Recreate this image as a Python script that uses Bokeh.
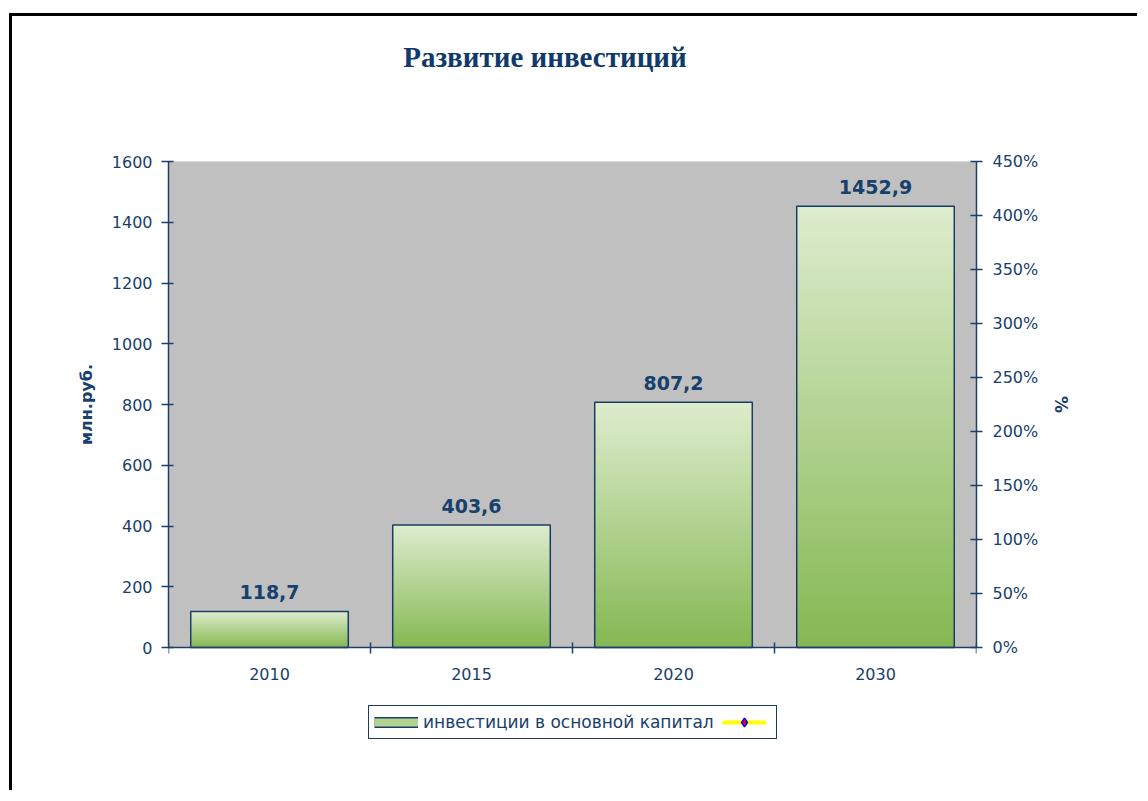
from bokeh.plotting import figure
from bokeh.models import (Range1d, LinearAxis, FixedTicker, NumeralTickFormatter,
                          ColumnDataSource, LabelSet, Label, Legend, LegendItem, BoxAnnotation)
from bokeh.embed import file_html
from bokeh.resources import INLINE
from bokeh.core.properties import value

nan = float("nan")

# ---------------- data ----------------
categories = ["2010", "2015", "2020", "2030"]
investments = [118.7, 403.6, 807.2, 1452.9]          # млн.руб.
growth_pct = [nan, nan, nan, nan]                     # second series (no visible values)
y_ticks = [0, 200, 400, 600, 800, 1000, 1200, 1400, 1600]
pct_ticks = [0, 0.5, 1.0, 1.5, 2.0, 2.5, 3.0, 3.5, 4.0, 4.5]
Y_MAX = 1600
PCT_MAX = 4.5
title_text = "Развитие инвестиций"
y_label = "млн.руб."
y2_label = "%"
series_name = "инвестиции в основной капитал"

# ---------------- layout / style ----------------
NAVY = "#17406d"
AXIS = "#1d3f6e"
LIGHT = (221, 236, 205)
DARK = (133, 184, 83)
SANS = "DejaVu Sans"
BAR_W = 0.78
N_SLICES = 70

AREA_W, AREA_H = 808, 486          # grey plot area in px
PAD = 117                          # extra frame (px) above and below grey area
px_unit = AREA_H / Y_MAX
pad_units = PAD / px_unit
pad_pct = pad_units * PCT_MAX / Y_MAX

p = figure(x_range=Range1d(0, len(categories)),
           y_range=Range1d(-pad_units, Y_MAX + pad_units),
           frame_width=AREA_W, frame_height=AREA_H + 2 * PAD,
           min_border_left=156, min_border_right=164,
           min_border_top=28, min_border_bottom=29,
           output_backend="svg", toolbar_location=None)
p.title.text = ""
p.styles = {"position": "relative", "left": "12px", "top": "16px",
            "box-shadow": "-3px -3px 0 0 #000000"}
p.outline_line_color = None
p.background_fill_color = "white"
p.border_fill_color = "white"
p.xgrid.visible = False
p.ygrid.visible = False

# grey plot area
p.add_layout(BoxAnnotation(bottom=0, top=Y_MAX, fill_color="#c0c0c0", fill_alpha=1.0,
                           line_color=None, level="underlay"))

# gradient bars built from thin slices
xc = [i + 0.5 for i in range(len(categories))]
sl = dict(left=[], right=[], bottom=[], top=[], color=[])
for c, v in zip(xc, investments):
    for k in range(N_SLICES):
        f = k / (N_SLICES - 1)
        col = tuple(int(round(DARK[j] + (LIGHT[j] - DARK[j]) * f)) for j in range(3))
        sl["left"].append(c - BAR_W / 2)
        sl["right"].append(c + BAR_W / 2)
        sl["bottom"].append(v * k / N_SLICES)
        sl["top"].append(v)
        sl["color"].append("#%02x%02x%02x" % col)
p.quad(left="left", right="right", bottom="bottom", top="top",
       fill_color="color", line_color=None, source=ColumnDataSource(sl))

bar_src = ColumnDataSource(dict(
    x=xc, left=[c - BAR_W / 2 for c in xc], right=[c + BAR_W / 2 for c in xc],
    top=investments, bottom=[0] * len(investments),
    label=[f"{v:.1f}".replace(".", ",") for v in investments]))
p.quad(left="left", right="right", bottom="bottom", top="top", source=bar_src,
       fill_color=None, line_color="#1a3c64", line_width=1.5)

p.add_layout(LabelSet(x="x", y="top", text="label", source=bar_src,
                      text_align="center", text_baseline="alphabetic", y_offset=12,
                      text_font=value(SANS), text_font_size="19px",
                      text_font_style="bold", text_color=NAVY))

# secondary axis
p.extra_y_ranges = {"pct": Range1d(-pad_pct, PCT_MAX + pad_pct)}
pct_line = p.line(x=xc, y=growth_pct, y_range_name="pct", line_color="#ffff00", line_width=4)
pct_pts = p.scatter(x=xc, y=growth_pct, y_range_name="pct", marker="diamond", size=12,
                    fill_color="#ff0000", line_color="#0000ff", line_width=1.5)

# x axis at value 0: labels at category centres, ticks at category boundaries
xa = p.xaxis[0]
xa.fixed_location = 0
xa.ticker = FixedTicker(ticks=xc, minor_ticks=list(range(len(categories) + 1)))
xa.major_label_overrides = {c: cat for c, cat in zip(xc, categories)}
xa.major_tick_line_color = None
xa.major_tick_in = 0
xa.major_tick_out = 0
xa.minor_tick_in = 5
xa.minor_tick_out = 6
xa.minor_tick_line_color = AXIS
xa.minor_tick_line_width = 1.5
xa.axis_line_color = AXIS
xa.axis_line_width = 1.5
xa.major_label_standoff = 14
xa.major_label_text_font = SANS
xa.major_label_text_font_size = "16px"
xa.major_label_text_color = NAVY

ya = p.yaxis[0]
ya.bounds = (0, Y_MAX)
ya.ticker = FixedTicker(ticks=y_ticks, minor_ticks=[])
ya.major_tick_in = 5
ya.major_tick_out = 7
ya.major_tick_line_color = AXIS
ya.major_tick_line_width = 1.5
ya.axis_line_color = AXIS
ya.axis_line_width = 1.5
ya.major_label_standoff = 9
ya.major_label_text_font = SANS
ya.major_label_text_font_size = "16px"
ya.major_label_text_color = NAVY
ya.axis_label = y_label
ya.axis_label_text_font = SANS
ya.axis_label_text_font_size = "16px"
ya.axis_label_text_font_style = "bold"
ya.axis_label_text_color = NAVY
ya.axis_label_standoff = 13

ya2 = LinearAxis(y_range_name="pct", bounds=(0, PCT_MAX),
                 ticker=FixedTicker(ticks=pct_ticks, minor_ticks=[]),
                 formatter=NumeralTickFormatter(format="0%"))
ya2.major_tick_in = 6
ya2.major_tick_out = 6
ya2.major_tick_line_color = AXIS
ya2.major_tick_line_width = 1.5
ya2.axis_line_color = AXIS
ya2.axis_line_width = 1.5
ya2.major_label_standoff = 10
ya2.major_label_text_font = SANS
ya2.major_label_text_font_size = "16px"
ya2.major_label_text_color = NAVY
ya2.axis_label = y2_label
ya2.axis_label_text_font = SANS
ya2.axis_label_text_font_size = "17px"
ya2.axis_label_text_font_style = "bold"
ya2.axis_label_text_color = NAVY
ya2.axis_label_standoff = 10
p.add_layout(ya2, "right")

# title (inside the extended frame, above the grey area)
TITLE_DX, TITLE_DY = 376.5, 591    # px from the grey area's bottom-left corner
p.add_layout(Label(x=TITLE_DX / AREA_W * len(categories), y=TITLE_DY / px_unit,
                   text=title_text, text_align="center", text_baseline="alphabetic",
                   text_font="Liberation Serif", text_font_size="29px",
                   text_font_style="bold", text_color="#0f3a6b"))

# legend
sw_out = p.line(x=[nan], y=[nan], line_color="#1a3c64", line_width=11)
sw_in = p.line(x=[nan], y=[nan], line_color="#b3d392", line_width=8)
legend = Legend(items=[LegendItem(label=series_name, renderers=[sw_out, sw_in]),
                       LegendItem(label="", renderers=[pct_line, pct_pts])],
                orientation="horizontal", location=(200, 25),
                glyph_width=44, glyph_height=22, label_height=22, label_width=0,
                padding=5, spacing=8, margin=0, label_standoff=5,
                label_text_font=SANS, label_text_font_size="17px", label_text_color=NAVY,
                border_line_color="#1a3c64", border_line_width=1.5, border_line_alpha=1.0,
                background_fill_color="white", background_fill_alpha=1.0)
p.add_layout(legend, "center")

open("out.html", "w").write(file_html(p, INLINE))
